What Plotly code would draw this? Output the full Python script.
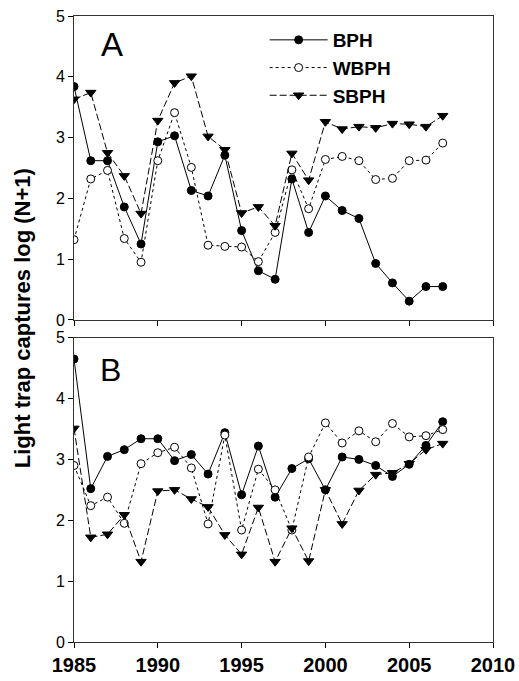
import plotly.graph_objects as go

years = list(range(1985, 2008))

# Panel A
a_bph = [3.84, 2.62, 2.62, 1.86, 1.25, 2.93, 3.03, 2.13, 2.04, 2.71, 1.47, 0.81,
         0.67, 2.32, 1.44, 2.04, 1.80, 1.67, 0.93, 0.61, 0.31, 0.55, 0.55]
a_wbph = [1.32, 2.32, 2.46, 1.34, 0.95, 2.62, 3.41, 2.51, 1.23, 1.21, 1.20, 0.96,
          1.44, 2.47, 1.83, 2.64, 2.69, 2.62, 2.31, 2.33, 2.62, 2.63, 2.91]
a_sbph = [3.63, 3.74, 2.75, 2.37, 1.75, 3.28, 3.90, 4.01, 3.02, 2.80, 1.76, 1.86,
          1.55, 2.74, 2.30, 3.26, 3.14, 3.18, 3.16, 3.23, 3.22, 3.18, 3.36]

# Panel B
b_bph = [4.65, 2.52, 3.05, 3.16, 3.34, 3.34, 2.98, 3.08, 2.76, 3.44, 2.42, 3.22,
         2.38, 2.85, 3.01, 2.50, 3.04, 3.00, 2.90, 2.72, 2.92, 3.23, 3.62]
b_wbph = [2.90, 2.24, 2.38, 1.95, 2.93, 3.11, 3.20, 2.86, 1.94, 3.40, 1.84, 2.84,
          2.50, 1.84, 3.04, 3.60, 3.27, 3.47, 3.29, 3.59, 3.37, 3.39, 3.49]
b_sbph = [3.51, 1.72, 1.77, 2.09, 1.32, 2.48, 2.50, 2.35, 2.22, 1.76, 1.44, 2.21,
          1.32, 1.87, 1.33, 2.50, 1.94, 2.49, 2.75, 2.78, 2.93, 3.16, 3.26]

x_ticks = [1985, 1990, 1995, 2000, 2005, 2010]
y_ticks = [0, 1, 2, 3, 4, 5]

FONT = "Arial, Liberation Sans, Helvetica, sans-serif"

styles = {
    "BPH": dict(line=dict(color="black", width=1, dash="solid"),
                marker=dict(symbol="circle", size=8, color="black",
                            line=dict(color="black", width=1))),
    "WBPH": dict(line=dict(color="black", width=1, dash="dot"),
                 marker=dict(symbol="circle", size=8, color="white",
                             line=dict(color="black", width=1))),
    "SBPH": dict(line=dict(color="black", width=1, dash="7px,3px"),
                 marker=dict(symbol="triangle-down", size=9, color="black",
                             line=dict(color="black", width=1))),
}

fig = go.Figure()
for name, vals in [("BPH", a_bph), ("WBPH", a_wbph), ("SBPH", a_sbph)]:
    fig.add_trace(go.Scatter(x=years, y=vals, mode="lines+markers", name=name,
                             xaxis="x", yaxis="y", legendgroup=name,
                             **styles[name]))
for name, vals in [("BPH", b_bph), ("WBPH", b_wbph), ("SBPH", b_sbph)]:
    fig.add_trace(go.Scatter(x=years, y=vals, mode="lines+markers", name=name,
                             xaxis="x2", yaxis="y2", showlegend=False,
                             legendgroup=name, **styles[name]))

axis_common = dict(range=[1985, 2010], tickvals=x_ticks, ticks="outside",
                   ticklen=5, tickwidth=1, tickcolor="black", showgrid=False,
                   zeroline=False, showline=True, linecolor="#333",
                   linewidth=1, mirror=True)
yaxis_common = dict(range=[0, 5], tickvals=y_ticks, ticks="outside", ticklen=5,
                    tickwidth=1, tickcolor="black", showgrid=False,
                    zeroline=False, showline=True, linecolor="#333",
                    linewidth=1, mirror=True,
                    tickfont=dict(family=FONT, size=16, color="black"))

fig.update_layout(
    width=519, height=681,
    margin=dict(l=74, r=26, t=16, b=39, autoexpand=False),
    paper_bgcolor="white", plot_bgcolor="white",
    font=dict(family=FONT, color="black"),
    xaxis=dict(domain=[0, 1], anchor="y", showticklabels=False, **axis_common),
    yaxis=dict(domain=[0.5144, 1.0], anchor="x", **yaxis_common),
    xaxis2=dict(domain=[0, 1], anchor="y2", showticklabels=True,
                tickfont=dict(family=FONT, size=20, color="black",
                              weight="bold"), **axis_common),
    yaxis2=dict(domain=[0.0, 0.4861], anchor="x2", **yaxis_common),
    showlegend=True,
    legend=dict(x=0.455, y=0.992, xanchor="left", yanchor="top",
                bgcolor="rgba(0,0,0,0)", itemwidth=58, tracegroupgap=0,
                font=dict(family=FONT, size=19, color="black", weight="bold")),
    annotations=[
        dict(text="A", xref="x domain", yref="y domain", x=0.09, y=0.905,
             xanchor="center", yanchor="middle",
             showarrow=False, font=dict(family=FONT, size=33, color="black")),
        dict(text="B", xref="x2 domain", yref="y2 domain", x=0.086, y=0.893,
             xanchor="center", yanchor="middle",
             showarrow=False, font=dict(family=FONT, size=32, color="black")),
        dict(text="<b>Light trap captures log (N+1)</b>", xref="paper",
             yref="paper", x=-0.123, y=0.518, textangle=-90, showarrow=False,
             xanchor="center", yanchor="middle",
             font=dict(family=FONT, size=22, color="black")),
    ],
)

fig.write_html(
    "out.html",
    config={"displayModeBar": False},
    post_script="document.body.style.margin='0';document.body.style.overflow='hidden';",
)
